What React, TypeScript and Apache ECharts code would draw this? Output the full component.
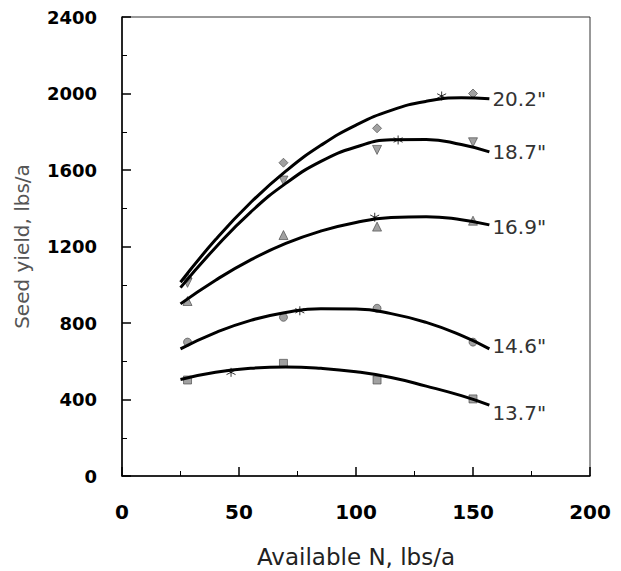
import React, { useEffect, useRef } from "react";
import * as echarts from "echarts";

// Curve sample positions (Available N, lbs/a)
const curveX = [25, 40, 55, 70, 85, 100, 115, 130, 145, 157];
// Fitted curve values (Seed yield, lbs/a)
const curve202 = [1013, 1236, 1430, 1594, 1729, 1835, 1912, 1959, 1978, 1972];
const curve187 = [985, 1195, 1380, 1530, 1645, 1720, 1758, 1760, 1733, 1695];
const curve169 = [900, 1024, 1130, 1216, 1281, 1326, 1351, 1356, 1340, 1313];
const curve146 = [665, 750, 814, 855, 875, 873, 849, 803, 735, 665];
const curve137 = [505, 542, 563, 570, 563, 545, 515, 470, 420, 371];

// Observed points
const obsX = [28, 69, 109, 150];
const obs202 = [1035, 1638, 1818, 2000];
const obs187 = [1010, 1545, 1705, 1745];
const obs169 = [915, 1260, 1304, 1335];
const obs146 = [700, 830, 877, 700];
const obs137 = [502, 589, 502, 403];

// Asterisk markers (optimum points)
const starX = [136.6, 118, 108, 76, 46.6];
const starY = [1987, 1757, 1353, 864, 542];

const curveLabels = ['20.2"', '18.7"', '16.9"', '14.6"', '13.7"'];

const xTicks = { min: 0, max: 200, interval: 50 };
const yTicks = { min: 0, max: 2400, interval: 400 };

const ASTERISK = "path://M5,0 L5,10 M0.7,2.5 L9.3,7.5 M0.7,7.5 L9.3,2.5";

export default function App() {
  const ref = useRef<HTMLDivElement>(null);

  useEffect(() => {
    if (!ref.current) return;
    const chart = echarts.init(ref.current, undefined, { renderer: "svg" });

    const curves = [curve202, curve187, curve169, curve146, curve137];
    const labelOffsets = [[0, 0], [0, 0], [0, 2], [0, -3], [0, 8]];
    const lineSeries = curves.map((c, i) => ({
      type: "line",
      data: curveX.map((x, j) => [x, c[j]]),
      smooth: true,
      showSymbol: false,
      symbol: "none",
      z: 4,
      lineStyle: { color: "#000", width: 3 },
      endLabel: {
        show: true,
        formatter: curveLabels[i],
        distance: 3,
        offset: labelOffsets[i],
        fontFamily: "DejaVu Sans",
        fontSize: 20,
        color: "#333",
      },
      silent: true,
    }));

    const obsSets = [obs202, obs187, obs169, obs146, obs137];
    const symbols = ["diamond", "triangle", "triangle", "circle", "rect"];
    const rotates = [0, 180, 0, 0, 0];
    const sizes = [9, 9, 9, 8, 8];
    const scatterSeries = obsSets.map((o, i) => ({
      type: "scatter",
      data: obsX.map((x, j) => [x, o[j]]),
      symbol: symbols[i],
      symbolRotate: rotates[i],
      symbolSize: sizes[i],
      z: 3,
      itemStyle: { color: "#8a8a8a", borderColor: "#444", borderWidth: 0.8 },
    }));

    const starSeries = {
      type: "scatter",
      data: starX.map((x, j) => [x, starY[j]]),
      symbol: ASTERISK,
      symbolSize: 9,
      z: 5,
      itemStyle: { color: "transparent", borderColor: "#000", borderWidth: 1 },
    };

    const axisCommon = {
      type: "value",
      axisLine: { show: true, lineStyle: { color: "#000", width: 1.5 } },
      axisTick: { show: true, inside: true, length: 9, lineStyle: { color: "#000", width: 1.5 } },
      minorTick: { show: true, splitNumber: 2, length: 5, lineStyle: { color: "#000", width: 1 } },
      splitLine: { show: false },
      minorSplitLine: { show: false },
      nameLocation: "middle",
    };

    const plain = (v: number) => String(v);

    chart.setOption({
      animation: false,
      backgroundColor: "#fff",
      grid: {
        left: 122,
        right: 31,
        top: 17,
        bottom: 95,
        show: true,
        borderColor: "#333",
        borderWidth: 1,
        outerBoundsMode: "none",
      },
      xAxis: {
        ...axisCommon,
        ...xTicks,
        name: "Available N, lbs/a",
        nameGap: 69,
        nameTextStyle: { fontFamily: "DejaVu Sans", fontSize: 23, color: "#222" },
        axisLabel: {
          fontFamily: "DejaVu Sans",
          fontWeight: "bold",
          fontSize: 20,
          color: "#000",
          margin: 26,
          formatter: plain,
        },
      },
      yAxis: {
        ...axisCommon,
        ...yTicks,
        name: "Seed yield, lbs/a",
        nameGap: 90,
        nameTextStyle: { fontFamily: "DejaVu Sans", fontSize: 20, color: "#555" },
        axisLabel: {
          fontFamily: "DejaVu Sans",
          fontWeight: "bold",
          fontSize: 18,
          color: "#000",
          margin: 25,
          formatter: plain,
        },
      },
      series: [...scatterSeries, ...lineSeries, starSeries],
    });

    return () => chart.dispose();
  }, []);

  return (
    <div
      ref={ref}
      style={{ position: "fixed", left: 0, top: 0, width: 621, height: 571 }}
    />
  );
}
